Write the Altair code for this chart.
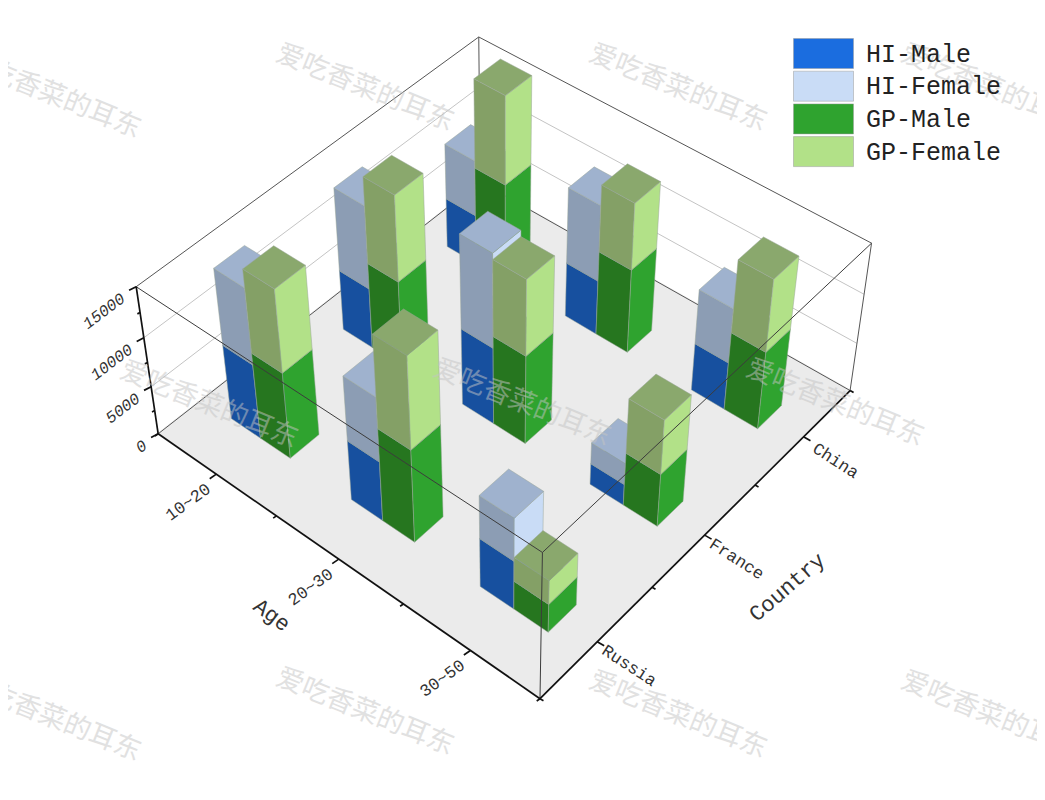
import numpy as np
import pandas as pd
import altair as alt

ages = ["10~20", "20~30", "30~50"]
countries = ["Russia", "France", "China"]
series = ["HI-Male", "HI-Female", "GP-Male", "GP-Female"]
# rows: age, columns: country
hi_male = [[7700, 6200, 5100], [6200, 7900, 5600], [5100, 2200, 4900]]
hi_female = [[7600, 8300, 5600], [6500, 9300, 7600], [4400, 2200, 5500]]
gp_male = [[8900, 8800, 10000], [9600, 9100, 8600], [3000, 5500, 8000]]
gp_female = [[8200, 8500, 8700], [9100, 7500, 6600], [2500, 5500, 7200]]
z_ticks = [0, 5000, 10000, 15000]
z_max = 15000

palette = {
    "HI-Male": ("#1b6ddf", "#17509f", "#1f5cb0"),
    "HI-Female": ("#c9dcf6", "#8c9db4", "#9fb2ce"),
    "GP-Male": ("#2fa32f", "#26761f", "#2f8a2a"),
    "GP-Female": ("#b2e188", "#84a066", "#8aa86d"),
}

# camera: world (age, country, value) to picture, fitted on box corners and tick marks
world = [(0, 0, 0), (3, 0, 0), (3, 3, 0), (0, 0, 1), (3, 0, 1), (3, 3, 1), (0, 3, 1),
         (0.5, 0, 0), (1.5, 0, 0), (2.5, 0, 0), (3, 0.5, 0), (3, 1.5, 0), (3, 2.5, 0),
         (0, 0, 1 / 3), (0, 0, 2 / 3), (3, 3, 1 / 3), (3, 3, 2 / 3)]
image = [(159, 433), (539, 697), (848, 391), (136, 287), (543, 553), (872, 244), (479, 36),
         (215, 475), (338, 558), (467, 650), (600, 642), (707, 536), (807, 438),
         (152, 388), (144, 338), (855, 343), (863, 293)]
rows = []
for (a, c, z), (u, v) in zip(world, image):
    rows.append([a, c, z, 1, 0, 0, 0, 0, -u * a, -u * c, -u * z, -u])
    rows.append([0, 0, 0, 0, a, c, z, 1, -v * a, -v * c, -v * z, -v])
P = np.linalg.svd(np.array(rows, float))[2][-1].reshape(3, 4)


def proj(a, c, val):
    h = P @ np.array([a, c, val / z_max, 1.0])
    return h[0] / h[2], h[1] / h[2]


BAR_A, BAR_C = 0.25, 0.25
faces = []
fid_counter = [0]


def add_face(key, pts):
    for i, p in enumerate(pts):
        x, y = proj(*p)
        faces.append(dict(x=x, y=y, face=f"{fid_counter[0]:04d}", key=key, o=i))
    fid_counter[0] += 1


order = sorted([(i, j) for i in range(3) for j in range(3)], key=lambda t: (t[0] - t[1], t[0]))
for i, j in order:
    ca, cc = i + 0.5, j + 0.5
    a_ranges = [(ca - BAR_A, ca), (ca, ca + BAR_A)]
    stacks = [(hi_male[i][j], hi_female[i][j], "HI-Male", "HI-Female"),
              (gp_male[i][j], gp_female[i][j], "GP-Male", "GP-Female")]
    for (a0, a1), (v1, v2, s1, s2) in zip(a_ranges, stacks):
        c0, c1 = cc - BAR_C / 2, cc + BAR_C / 2
        for lo, hi, s in [(0, v1, s1), (v1, v1 + v2, s2)]:
            add_face(s + "|left", [(a0, c0, lo), (a1, c0, lo), (a1, c0, hi), (a0, c0, hi)])
            add_face(s, [(a1, c0, lo), (a1, c1, lo), (a1, c1, hi), (a1, c0, hi)])
            add_face(s + "|top", [(a0, c0, hi), (a1, c0, hi), (a1, c1, hi), (a0, c1, hi)])
df_faces = pd.DataFrame(faces)

dom, rng = [], []
for s in series:
    for suffix, col in zip(["", "|left", "|top"], palette[s]):
        dom.append(s + suffix)
        rng.append(col)

X = alt.X("x:Q", scale=alt.Scale(domain=[8, 1037]), axis=None)
Y = alt.Y("y:Q", scale=alt.Scale(domain=[792, 8]), axis=None)


def segs(lst):
    out = []
    for n, (p, q) in enumerate(lst):
        for k, pt in enumerate((p, q)):
            x, y = proj(*pt) if len(pt) == 3 else pt
            out.append(dict(x=x, y=y, seg=n, o=k))
    return pd.DataFrame(out)


def line_layer(df, color, width):
    return alt.Chart(df).mark_line(color=color, strokeWidth=width).encode(
        x=X, y=Y, detail="seg:N", order="o:Q")


floor_df = pd.DataFrame([dict(zip("xy", proj(*p))) | {"o": k}
                         for k, p in enumerate([(0, 0, 0), (3, 0, 0), (3, 3, 0), (0, 3, 0)])])
floor = alt.Chart(floor_df).mark_line(fill="#ebebeb", stroke="#ebebeb", interpolate="linear-closed").encode(
    x=X, y=Y, order="o:Q")

grid_back = []
for z in z_ticks[1:-1]:
    grid_back += [((0, 0, z), (0, 3, z)), ((0, 3, z), (3, 3, z))]
grid = line_layer(segs(grid_back), "#c4c4c4", 1)

box_back = [((0, 0, z_max), (0, 3, z_max)), ((0, 3, z_max), (3, 3, z_max)),
            ((0, 3, 0), (0, 3, z_max)), ((3, 3, 0), (3, 3, z_max)),
            ((0, 0, 0), (0, 3, 0)), ((0, 3, 0), (3, 3, 0))]
back = line_layer(segs(box_back), "#555555", 1)

bars = alt.Chart(df_faces).mark_line(strokeWidth=0.7, stroke="#9aa59a", strokeOpacity=0.7,
                                     interpolate="linear-closed").encode(
    x=X, y=Y, order="o:Q", detail="face:N",
    fill=alt.Fill("key:N", scale=alt.Scale(domain=dom, range=rng),
                  legend=alt.Legend(
                      values=series, title=None, orient="none", legendX=800, legendY=30,
                      symbolType="M-2,-1H2V1H-2Z", symbolSize=900, symbolStrokeWidth=0.5,
                      symbolStrokeColor="#9a9a9a", rowPadding=-0.3, labelOffset=27,
                      labelFont="Liberation Mono", labelFontSize=25, labelColor="#222222")))

front = line_layer(segs([((0, 0, z_max), (3, 0, z_max)), ((3, 0, z_max), (3, 3, z_max)),
                         ((3, 0, 0), (3, 0, z_max))]), "#3c3c3c", 1)


def offset_tick(pt, dx, dy, ln):
    x, y = proj(*pt)
    return ((x, y), (x + dx * ln, y + dy * ln))


# thick axes and ticks
axes_seg = [((0, 0, 0), (3, 0, 0)), ((3, 0, 0), (3, 3, 0)), ((0, 0, 0), (0, 0, z_max))]
for k in range(0, 7):
    a = k / 2
    ln = 8 if k % 2 else 4
    axes_seg.append(offset_tick((a, 0, 0), -0.82, 0.57, ln))
    axes_seg.append(offset_tick((3, a, 0), 0.87, 0.5, ln))
for k in range(0, 7):
    z = k * 2500
    axes_seg.append(offset_tick((0, 0, z), -0.89, 0.45, 8 if k % 2 == 0 else 3))
axes_layer = line_layer(segs(axes_seg), "#111111", 1.7)

# labels
z_labels = []
for z in z_ticks:
    x, y = proj(0, 0, z)
    z_labels.append(dict(x=x - 13, y=y + 10, t=str(z), a=323, s=16))
labels = []
for i, name in enumerate(ages):
    x, y = proj(i + 0.5, 0, 0)
    labels.append(dict(x=x - 28, y=y + 28, t=name, a=324, s=17))
for j, name in enumerate(countries):
    x, y = proj(3, j + 0.5, 0)
    labels.append(dict(x=x + 32, y=y + 24, t=name, a=33, s=17))
labels.append(dict(x=272, y=615, t="Age", a=37, s=22))
labels.append(dict(x=787, y=587, t="Country", a=319, s=22))


def text_layer(rows_, style, align):
    return alt.Chart(pd.DataFrame(rows_)).mark_text(
        font="Liberation Mono", color="#333333", baseline="middle", align=align, fontStyle=style).encode(
        x=X, y=Y, text="t:N", angle=alt.Angle("a:Q", scale=None),
        size=alt.Size("s:Q", scale=None, legend=None))


text = text_layer(labels, "normal", "center")
text_it = text_layer(z_labels, "italic", "right")

marks = ["爱吃香菜的耳东"] * 11
mark_x = [52, 365, 678, 990, 209, 522, 835, 52, 365, 678, 990]
mark_y = [95, 88, 88, 88, 405, 403, 403, 718, 712, 715, 715]
water = alt.Chart(pd.DataFrame(dict(t=marks, x=mark_x, y=mark_y))).mark_text(
    font="Noto Sans CJK SC", fontSize=27, angle=22, color="#c4c4c4", opacity=0.5, align="center",
    baseline="middle").encode(x=X, y=Y, text="t:N")

chart = alt.layer(floor, grid, back, bars, front, axes_layer, text, text_it, water).properties(
    width=1029, height=784, padding=0,
    autosize=alt.AutoSizeParams(type="none", contains="padding"),
).configure_view(stroke=None)

chart.save("out.html", embed_options={"renderer": "svg", "actions": False})
